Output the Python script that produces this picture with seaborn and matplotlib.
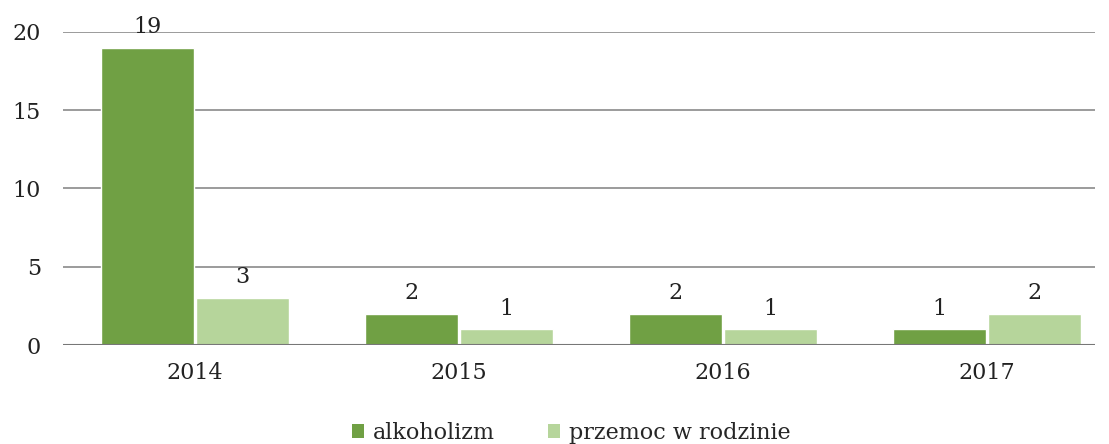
import matplotlib
matplotlib.use("Agg")
import matplotlib.pyplot as plt
import seaborn as sns
import pandas as pd
from matplotlib.patches import Patch

years = ["2014", "2015", "2016", "2017"]
alkoholizm = [19, 2, 2, 1]
przemoc = [3, 1, 1, 2]
series_names = ["alkoholizm", "przemoc w rodzinie"]
colors = ["#70a044", "#b6d59b"]

df = pd.DataFrame({
    "rok": years * 2,
    "wartosc": alkoholizm + przemoc,
    "seria": [series_names[0]] * 4 + [series_names[1]] * 4,
})

sns.set_theme(style="white")
plt.rcParams['font.family'] = ['DejaVu Serif']

fig = plt.figure(figsize=(11.09, 4.44), dpi=100)
ax = fig.add_axes([63 / 1109, 1 - 345 / 444, 1032 / 1109, 313 / 444])

sns.barplot(data=df, x="rok", y="wartosc", hue="seria", palette=colors,
            width=0.72, gap=0.02, ax=ax, legend=False, saturation=1)

for c in ax.containers:
    ax.bar_label(c, fmt="%d", padding=7, fontsize=16, color="#222222")

ax.set_xlim(-0.5, -0.5 + 1032 / 264)
ax.set_ylim(0, 20)
ax.set_yticks([0, 5, 10, 15, 20])
ax.yaxis.grid(True, color="#8a8a8a", linewidth=1.2)
ax.set_axisbelow(True)
for s in ax.spines.values():
    s.set_visible(False)
ax.axhline(0, color="#777777", linewidth=1.5)
ax.set_xlabel("")
ax.set_ylabel("")
ax.tick_params(axis="both", labelsize=16, colors="#222222", length=0)
ax.tick_params(axis="y", pad=16)
ax.tick_params(axis="x", pad=12)

handles = [Patch(facecolor=c, edgecolor="none") for c in colors]
fig.legend(handles, series_names, loc="lower center", ncol=2, frameon=False,
           fontsize=16, handlelength=0.55, handleheight=0.55, handletextpad=0.4,
           columnspacing=2.4, bbox_to_anchor=(0.515, -0.045))

fig.savefig("out.png", dpi=100, facecolor="white")
